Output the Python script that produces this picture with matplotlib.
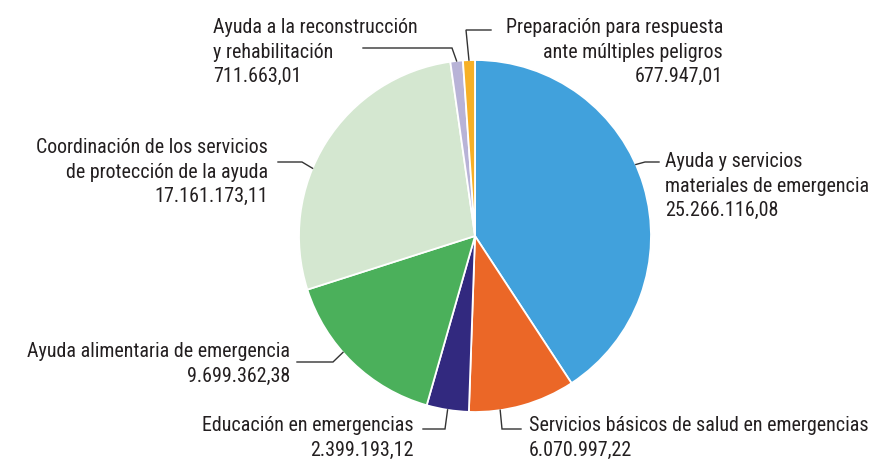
import matplotlib

matplotlib.use("Agg")
import matplotlib.pyplot as plt
import numpy as np
from matplotlib import font_manager

# Data (clockwise from 12 o'clock)
labels = [
    ["Ayuda y servicios", "materiales de emergencia"],
    ["Servicios básicos de salud en emergencias"],
    ["Educación en emergencias"],
    ["Ayuda alimentaria de emergencia"],
    ["Coordinación de los servicios", "de protección de la ayuda"],
    ["Ayuda a la reconstrucción", "y rehabilitación"],
    ["Preparación para respuesta", "ante múltiples peligros"],
]
values = [
    25266116.08,
    6070997.22,
    2399193.12,
    9699362.38,
    17161173.11,
    711663.01,
    677947.01,
]
value_labels = [
    "25.266.116,08",
    "6.070.997,22",
    "2.399.193,12",
    "9.699.362,38",
    "17.161.173,11",
    "711.663,01",
    "677.947,01",
]
colors = ["#41A1DC", "#EB6727", "#32297F", "#4BB05B", "#D4E7D0", "#B8B3D7", "#F7B026"]

W, H = 875, 459
CENTER = (475, H - 236)
RADIUS = 176
LINE = 24.5

# layout per label: position of leader attach within wedge (0..1), leader elbow/end,
# text anchor x, first baseline y (image pixels), alignment
LAYOUT = [
    dict(t=0.55, elbow=(645, 162), end=(659, 162), x=665, y=167, ha="left"),
    dict(t=0.29, elbow=(502, 429), end=(521, 429), x=529, y=431, ha="left"),
    dict(t=0.50, elbow=(445, 429), end=(423, 429), x=414, y=431, ha="right"),
    dict(t=0.42, elbow=(333, 362), end=(297, 362), x=290, y=357, ha="right"),
    dict(t=0.595, elbow=(302, 162), end=(278, 162), x=268, y=153, ha="right"),
    dict(t=0.50, elbow=(452, 48), end=(363, 48), x=213, y=33, ha="left"),
    dict(t=0.50, elbow=(466, 30), end=(491, 30), x=723, y=33, ha="right"),
]


def pick_font() -> str:
    for name in ("Roboto Condensed", "Liberation Sans Narrow", "Open Sans Condensed", "Liberation Sans"):
        try:
            font_manager.findfont(name, fallback_to_default=False)
            return name
        except ValueError:
            continue
    return "DejaVu Sans"


FONT = pick_font()
plt.rcParams["font.family"] = [FONT, "DejaVu Sans"]

fig = plt.figure(figsize=(W / 100, H / 100), dpi=100)
ax = fig.add_axes([0, 0, 1, 1])

wedges, _ = ax.pie(
    values,
    colors=colors,
    startangle=90,
    counterclock=False,
    center=CENTER,
    radius=RADIUS,
    wedgeprops=dict(edgecolor="white", linewidth=1.3),
)
ax.set_xlim(0, W)
ax.set_ylim(0, H)
ax.set_aspect("equal")
ax.axis("off")

for wedge, label, value_label, lay in zip(wedges, labels, value_labels, LAYOUT):
    ang = np.deg2rad(wedge.theta1 + lay["t"] * (wedge.theta2 - wedge.theta1))
    px = CENTER[0] + RADIUS * np.cos(ang)
    py = CENTER[1] + RADIUS * np.sin(ang)
    ex, ey = lay["elbow"]
    nx, ny = lay["end"]
    ax.plot([px, ex, nx], [py, H - ey, H - ny], color="#333333", linewidth=1.0,
            solid_joinstyle="miter")
    for i, line in enumerate(label + [value_label]):
        ax.text(lay["x"], H - (lay["y"] + i * LINE), line, ha=lay["ha"], va="baseline",
                fontsize=14.4, color="#231F20")

fig.savefig("out.png", dpi=100)
